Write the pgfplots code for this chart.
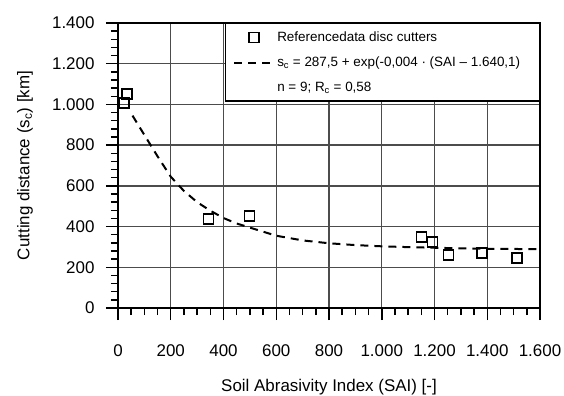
\documentclass[border=0pt]{standalone}
\usepackage{fontspec}
\setmainfont{Liberation Sans}
\usepackage{pgfplots}
\pgfplotsset{compat=1.18}
\pgfplotsset{
  marklegend/.style={legend image code/.code={\draw[mark repeat=2,mark phase=2,##1] plot coordinates {(0bp,0bp) (20bp,0bp) (40bp,0bp)};}},
  linelegend/.style={legend image code/.code={\draw[##1] (0bp,0bp) -- (40bp,0bp);}},
}
\pgfplotstableread{
x y
23 1007
34 1052
343 437
499 452
1150 349
1192 324
1253 260
1379 270
1512 246
}\refdata
\pgfplotstableread{
x y
55 945
100 850
150 745
200 645
250 575
300 520
350 478
400 442
450 415
500 395
600 355
700 332
800 318
900 309
1000 303
1100 299
1200 296
1300 293
1400 291
1500 290
1600 289
}\fitdata
\begin{document}
\begin{tikzpicture}
\path[use as bounding box] (-118bp,-88bp) rectangle (446bp,308bp);
\begin{axis}[
  at={(0,0)}, anchor=south west,
  scale only axis, width=422bp, height=285bp,
  xmin=0, xmax=1600, ymin=0, ymax=1400,
  xtick={0,200,...,1600}, ytick={0,200,...,1400},
  minor x tick num=3, minor y tick num=4,
  xtick pos=bottom, ytick pos=left,
  tick align=outside, major tick length=12bp, minor tick length=7bp,
  every tick/.style={line width=1.5bp, black},
  grid=major, major grid style={line width=1.4bp, black!70},
  axis line style={line width=2bp},
  tick label style={font=\fontsize{17}{20}\selectfont},
  xticklabel style={yshift=-21bp},
  yticklabel style={xshift=-8bp},
  /pgf/number format/1000 sep={.},
  /pgf/number format/assume math mode=true,
  label style={font=\fontsize{17}{20}\selectfont},
  xlabel={Soil Abrasivity Index (SAI) [-]},
  ylabel={Cutting distance (s\textsubscript{c}) [km]},
  xlabel style={at={(rel axis cs:0.5,0)}, anchor=center, yshift=-79bp},
  ylabel style={at={(rel axis cs:0,0.5)}, anchor=center, yshift=93bp},
  legend cell align=left,
  legend style={at={(rel axis cs:1,1)}, anchor=north east, draw=black, line width=1.5bp, fill=white,
    font=\fontsize{13.5}{16}\selectfont, row sep=10bp, inner xsep=8bp, inner ysep=6bp},
]
\addplot[only marks, mark=square, mark size=5bp, line width=1.6bp, black, marklegend]
  table {\refdata};
\addlegendentry{\makebox[252bp][l]{Referencedata disc cutters}}
\addplot[no marks, dashed, dash pattern=on 8bp off 6bp, line width=2bp, black, linelegend]
  table {\fitdata};
\addlegendentry{s\textsubscript{c} = 287,5 + exp(-0,004 · (SAI – 1.640,1)}
\addlegendimage{empty legend}
\addlegendentry{n = 9; R\textsubscript{c} = 0,58}
\end{axis}
\end{tikzpicture}
\end{document}
